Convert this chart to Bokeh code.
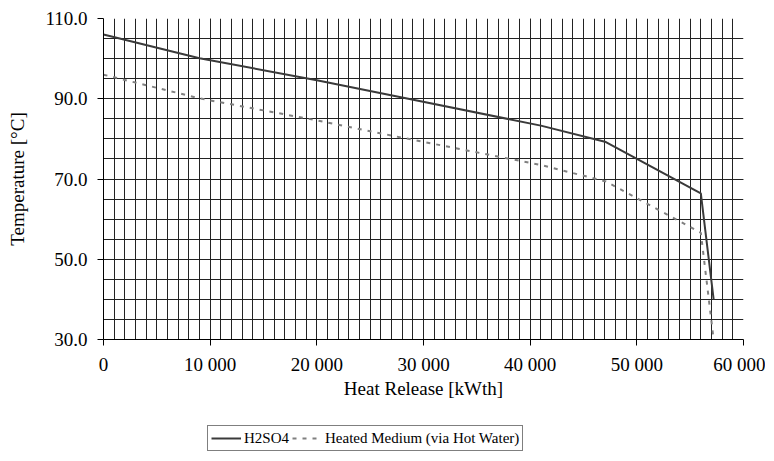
from bokeh.plotting import figure
from bokeh.layouts import column
from bokeh.models import FixedTicker, Legend, LegendItem
from bokeh.embed import file_html
from bokeh.resources import INLINE

# ---- data ----
heat_release = [0, 9000, 20000, 28000, 41000, 47100, 56000, 57200]
h2so4_temp = [106.0, 100.1, 94.6, 90.3, 83.3, 79.2, 66.4, 40.0]
medium_temp = [96.0, 90.1, 84.6, 80.3, 73.5, 69.4, 56.6, 30.0]
series_names = ["H2SO4", "Heated Medium (via Hot Water)"]

x_ticks = [0, 10000, 20000, 30000, 40000, 50000, 60000]
x_tick_labels = ["0", "10 000", "20 000", "30 000", "40 000", "50 000", "60 000"]
x_minor = list(range(0, 60001, 1000))
y_ticks = [30, 50, 70, 90, 110]
y_tick_labels = ["30.0", "50.0", "70.0", "90.0", "110.0"]
y_minor = list(range(30, 111, 5))

FONT = "Liberation Serif"
SOLID = dict(line_color="#3a3a3a", line_width=2)
DASHED = dict(line_color="#808080", line_width=2, line_dash="4 6")

p = figure(
    frame_width=640, frame_height=321,
    x_range=(0, 60000), y_range=(30, 110),
    output_backend="svg", toolbar_location=None,
    min_border_left=103, min_border_top=18, min_border_right=22,
    min_border_bottom=71,
    background_fill_color="white", border_fill_color="white",
)
p.outline_line_color = None

for ax, ticks, labels, minor in ((p.xaxis[0], x_ticks, x_tick_labels, x_minor),
                                 (p.yaxis[0], y_ticks, y_tick_labels, y_minor)):
    ax.ticker = FixedTicker(ticks=ticks, minor_ticks=minor)
    ax.major_label_overrides = {t: l for t, l in zip(ticks, labels)}
    ax.major_label_text_font = FONT
    ax.major_label_text_font_size = "19px"
    ax.major_label_text_color = "black"
    ax.axis_label_text_font = FONT
    ax.axis_label_text_font_size = "19px"
    ax.axis_label_text_font_style = "normal"
    ax.axis_label_text_color = "black"
    ax.axis_line_color = "black"
    ax.major_tick_line_color = "black"
    ax.major_tick_out = 6
    ax.major_tick_in = 0
    ax.minor_tick_line_color = None

p.xaxis.axis_label = "Heat Release [kWth]"
p.yaxis.axis_label = "Temperature [°C]"
p.xaxis.major_label_standoff = 8
p.yaxis.major_label_standoff = 10
p.xaxis.axis_label_standoff = 0
p.yaxis.axis_label_standoff = 14

for g in (p.xgrid[0], p.ygrid[0]):
    g.grid_line_color = "#222222"
    g.grid_line_width = 1
    g.minor_grid_line_color = "#222222"
    g.minor_grid_line_width = 1

p.line(heat_release, h2so4_temp, **SOLID)
p.line(heat_release, medium_temp, **DASHED)

# ---- legend strip underneath the chart ----
# The same series are drawn here too, but they fall outside this strip's
# ranges (and are clipped); they only supply the legend glyphs.
lg = figure(
    frame_width=765, frame_height=45,
    x_range=(0, 1), y_range=(0, 1),
    x_axis_type=None, y_axis_type=None,
    output_backend="svg", toolbar_location=None,
    min_border=0, background_fill_color="white", border_fill_color="white",
)
lg.outline_line_color = None
lg.grid.visible = False
k1 = lg.line(heat_release, h2so4_temp, **SOLID)
k2 = lg.line(heat_release, medium_temp, **DASHED)

legend = Legend(
    items=[LegendItem(label=series_names[0], renderers=[k1]),
           LegendItem(label=series_names[1], renderers=[k2])],
    orientation="horizontal",
    location=(207, 4),
    label_text_font=FONT, label_text_font_size="15px",
    label_text_color="black",
    border_line_color="black", border_line_width=1,
    background_fill_color="white", background_fill_alpha=1,
    padding=3, margin=0, spacing=3,
    glyph_width=30, glyph_height=16, label_standoff=3,
    label_height=18,
)
lg.add_layout(legend, "center")

open("out.html", "w").write(file_html(column(p, lg), INLINE))
